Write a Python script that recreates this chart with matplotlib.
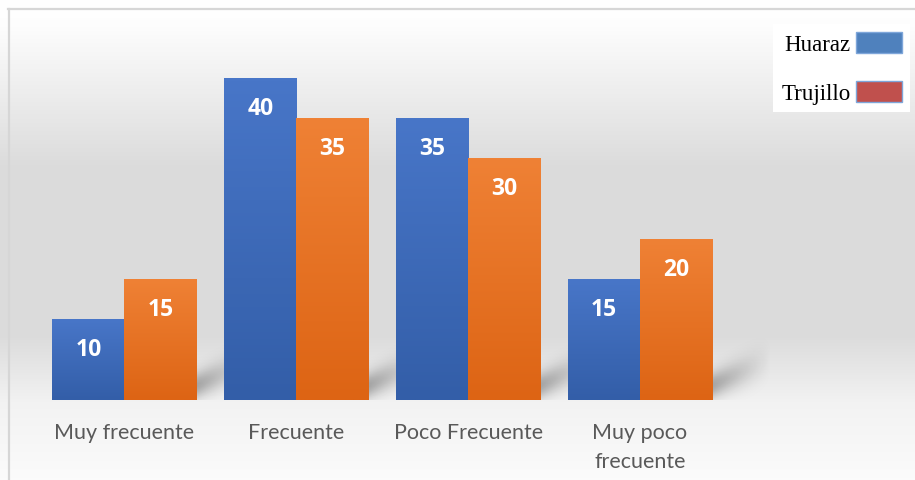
import numpy as np
import matplotlib.pyplot as plt
from matplotlib.patches import Patch
from matplotlib.colors import to_rgb

categories = ['Muy frecuente', 'Frecuente', 'Poco Frecuente', 'Muy poco\nfrecuente']
huaraz = [10, 40, 35, 15]
trujillo = [15, 35, 30, 20]
series_names = ['Huaraz', 'Trujillo']

W, H = 915, 481
fig = plt.figure(figsize=(W / 100, H / 100), dpi=100)

# background: soft vertical gradient
bg = fig.add_axes([0, 0, 1, 1], zorder=0)
yy = np.linspace(0, 1, 400)  # 0 = top
stops_y = [0.0, 0.05, 0.35, 0.70, 0.84, 1.0]
stops_c = [1.0, 0.995, 0.86, 0.86, 0.95, 0.985]
g = np.interp(yy, stops_y, stops_c)
img = np.repeat(g[:, None], 2, axis=1)
bg.imshow(np.dstack([img, img, img]), aspect='auto', extent=[0, 1, 0, 1], origin='upper')
bg.set_xlim(0, 1)
bg.set_ylim(0, 1)
bg.axis('off')
# frame lines (top and left)
bg.plot([8 / W, 1], [1 - 10 / H, 1 - 10 / H], color='#d6d6d6', lw=1.6)
bg.plot([9 / W, 9 / W], [0, 1 - 10 / H], color='#d6d6d6', lw=1.6)

ax = fig.add_axes([38.5 / W, 80 / H, 687.5 / W, 362 / H], zorder=1)
ax.patch.set_visible(False)

x = np.arange(len(categories))
w = 0.42

# floor shadows to the right of each group
sx = np.linspace(-0.5, 3.9, 900)
sy = np.linspace(0, 45, 450)
SX, SY = np.meshgrid(sx, sy)
alpha = np.zeros_like(SX)
for i in x:
    xr = i + w
    u = (SX - xr) / 0.34
    uc = np.clip(u, 0, 1)
    yc = 1.8 + 3.2 * uc
    band = np.exp(-((SY - yc) / (1.6 + 0.6 * uc)) ** 2)
    fall = np.where(u >= -0.05, np.clip(1 - u, 0, 1), 0) ** 1.1
    alpha = np.maximum(alpha, 0.30 * band * fall)
shadow = np.zeros(SX.shape + (4,))
shadow[..., 3] = alpha
ax.imshow(shadow, extent=[-0.5, 3.9, 0, 45], origin='lower', aspect='auto', zorder=1,
          clip_on=False)


def grad_bar(x0, x1, h, top, bottom):
    t = np.array(to_rgb(top))
    b = np.array(to_rgb(bottom))
    f = np.linspace(0, 1, 100)[:, None]
    col = b + (t - b) * f
    im = np.repeat(col[:, None, :], 2, axis=1)
    ax.imshow(im, extent=[x0, x1, 0, h], origin='lower', aspect='auto', zorder=2)


bars1 = ax.bar(x - w / 2, huaraz, w, color='none', zorder=3)
bars2 = ax.bar(x + w / 2, trujillo, w, color='none', zorder=3)
for b in bars1:
    grad_bar(b.get_x(), b.get_x() + b.get_width(), b.get_height(), '#4876c8', '#335ea8')
for b in bars2:
    grad_bar(b.get_x(), b.get_x() + b.get_width(), b.get_height(), '#ef8135', '#dd6414')
ax.set_xlim(-0.5, 3.5)
ax.set_ylim(0, 45)

for bars in (bars1, bars2):
    for b in bars:
        ax.text(b.get_x() + b.get_width() / 2, b.get_height() - 3.7, f'{b.get_height():g}',
                ha='center', va='center', color='white', fontsize=16.5, fontweight='bold',
                family='Open Sans', zorder=4)

ax.set_xticks(x)
ax.set_xticklabels(categories, fontsize=15.5, color='#595959', family='Lato', linespacing=1.55)
ax.tick_params(axis='x', length=0, pad=16)
ax.set_yticks([])
for s in ax.spines.values():
    s.set_visible(False)

# legend
handles = [Patch(facecolor='#4f81bd', edgecolor='#7ea6da', lw=1),
           Patch(facecolor='#c0504d', edgecolor='#7ea6da', lw=1)]
leg = fig.legend(handles, series_names, loc='upper right',
                 bbox_to_anchor=(910 / W, 1 - 25 / H), markerfirst=False,
                 prop={'family': 'Liberation Serif', 'size': 16.5},
                 handlelength=2.0, handleheight=1.05, labelspacing=1.1,
                 handletextpad=0.25, borderpad=0.35, borderaxespad=0,
                 frameon=True, fancybox=False, framealpha=1, edgecolor='white')
leg.get_frame().set_linewidth(0)

fig.savefig('out.png', dpi=100)
